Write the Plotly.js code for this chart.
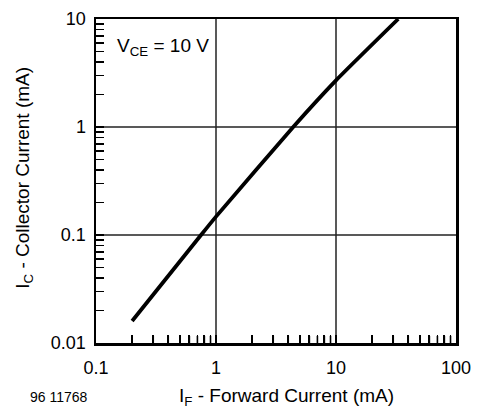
<!DOCTYPE html>
<html>
<head>
<meta charset="utf-8">
<script src="https://cdn.plot.ly/plotly-3.0.1.min.js"></script>
<style>html,body{margin:0;padding:0;background:#fff;}#chart{width:488px;height:410px;}</style>
</head>
<body>
<div id="chart"></div>
<script>
// Forward current I_F (mA) and collector current I_C (mA)
const forwardCurrent = [0.2, 0.75, 1, 4.4, 10, 33];
const collectorCurrent = [0.016, 0.1, 0.148, 1, 2.7, 10];

const xTickVals = [0.1, 1, 10, 100];
const xTickText = ['0.1', '1', '10', '100'];
const yTickVals = [0.01, 0.1, 1, 10];
const yTickText = ['0.01', '0.1', '1', '10'];
const minorDigits = [2, 3, 4, 5, 6, 7, 8, 9];

// all tick positions (decades + 2..9 within each decade) with labels on decades only
function allTicks(decades, labels) {
  const vals = [], text = [];
  decades.forEach((d, i) => {
    vals.push(d); text.push(labels[i]);
    if (i < decades.length - 1) minorDigits.forEach(m => { vals.push(+(d * m).toPrecision(6)); text.push(''); });
  });
  return {vals, text};
}

const FONT = 'Liberation Sans, Arial, Helvetica, sans-serif';

const trace = {
  x: forwardCurrent,
  y: collectorCurrent,
  type: 'scatter',
  mode: 'lines',
  line: {color: '#000', width: 3.8, shape: 'spline', smoothing: 0.5},
  hoverinfo: 'skip'
};

function axis(range, decades, labels, tickLen, standoff) {
  const t = allTicks(decades, labels);
  return {
    type: 'log',
    range: range,
    tickmode: 'array',
    tickvals: t.vals,
    ticktext: t.text,
    showgrid: false,
    showline: true,
    linecolor: '#000',
    linewidth: 2.5,
    mirror: true,
    ticks: 'inside',
    ticklen: tickLen,
    tickwidth: 1.8,
    tickcolor: '#000',
    ticklabelstandoff: standoff,
    zeroline: false,
    tickfont: {family: FONT, size: 18, color: '#000'}
  };
}

const shapes = [];
// grid lines at the inner decades
xTickVals.slice(1, -1).forEach(v => shapes.push({type: 'line', xref: 'x', yref: 'paper', x0: v, x1: v, y0: 0, y1: 1,
  line: {color: '#222', width: 1.5}, layer: 'below'}));
yTickVals.slice(1, -1).forEach(v => shapes.push({type: 'line', xref: 'paper', yref: 'y', x0: 0, x1: 1, y0: v, y1: v,
  line: {color: '#222', width: 1.5}, layer: 'below'}));
// minor tick marks on the bottom axis, drawn as short marks rising from the axis
xTickVals.slice(0, -1).forEach(d => minorDigits.forEach(m => shapes.push({type: 'line', xref: 'x', yref: 'paper',
  x0: d * m, x1: d * m, y0: 0, y1: 0.022, line: {color: '#000', width: 1.6}, layer: 'above'})));

const layout = {
  width: 488,
  height: 410,
  margin: {l: 96, r: 32, t: 19, b: 67},
  paper_bgcolor: '#fff',
  plot_bgcolor: '#fff',
  showlegend: false,
  font: {family: FONT, color: '#000'},
  xaxis: axis([-1, 2], xTickVals, xTickText, 8, 7),
  yaxis: axis([-2, 1], yTickVals, yTickText, 8, 4),
  shapes: shapes,
  annotations: [
    {text: 'V<sub>CE</sub> = 10 V', xref: 'paper', yref: 'paper', x: 0.052, y: 0.915,
     xanchor: 'left', yanchor: 'middle', showarrow: false, font: {family: FONT, size: 19, color: '#000'}},
    {text: 'I<sub>F</sub> - Forward Current (mA)', xref: 'paper', yref: 'paper', x: 0.53, y: -0.168,
     xanchor: 'center', yanchor: 'middle', showarrow: false, font: {family: FONT, size: 19, color: '#000'}},
    {text: 'I<sub>C</sub> - Collector Current (mA)', xref: 'paper', yref: 'paper', x: -0.2, y: 0.51,
     xanchor: 'center', yanchor: 'middle', textangle: -90, showarrow: false, font: {family: FONT, size: 19, color: '#000'}},
    {text: '96 11768', xref: 'paper', yref: 'paper', x: -0.103, y: -0.168,
     xanchor: 'center', yanchor: 'middle', showarrow: false, font: {family: FONT, size: 14, color: '#000'}}
  ]
};

Plotly.newPlot('chart', [trace], layout, {staticPlot: true, displayModeBar: false});
</script>
</body>
</html>
